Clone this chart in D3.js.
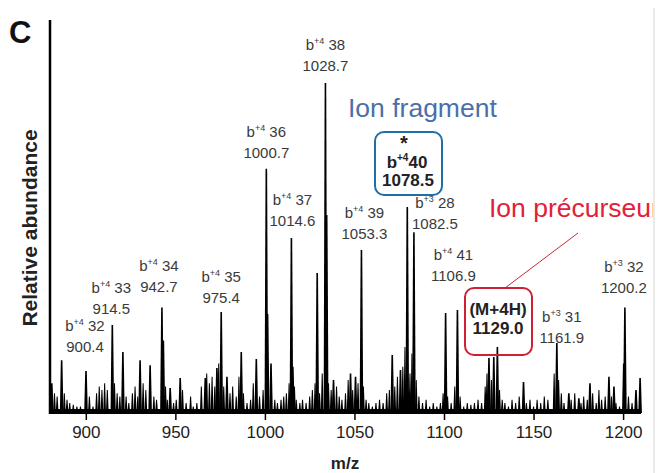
<!DOCTYPE html>
<html>
<head>
<meta charset="utf-8">
<script src="https://cdn.jsdelivr.net/npm/d3@7"></script>
<style>
    body { margin: 0; background: #fff; }
    svg { display: block; }
    text { font-family: "Liberation Sans", Arial, sans-serif; }
</style>
</head>
<body>
<div id="chart"></div>
<script>
// main peaks (m/z, relative abundance %)
const mainMz = [881.0, 886.5, 900.1, 914.8, 920.7, 930.3, 935.9, 942.5, 943.3, 947.1, 952.7,
    966.7, 973.2, 975.6, 978.8, 986.8, 995.2, 1000.8, 1001.5, 1003.4, 1014.8, 1015.6, 1029.2, 1033.8, 1034.5,
    1038.3, 1047.8, 1050.6, 1053.9, 1071.1, 1075.7, 1079.5, 1083.2, 1100.9, 1107.5,
    1125.1, 1127.8, 1129.8, 1144.4, 1163.0, 1169.7, 1175.3, 1181.5, 1192.1, 1194.9,
    1201.0, 1207.2, 1209.5];
const mainInt = [9, 16, 12.7, 26.7, 18.5, 16, 14.5, 32, 22, 7.6, 10.6,
    10.6, 13.6, 30.6, 11, 18.5, 16.4, 74, 30, 15, 53, 14, 42.4, 100, 60,
    10, 12, 11, 49.4, 17.6, 13, 62.4, 54.8, 30.3, 31.2,
    16.7, 17, 20, 9.4, 21.2, 6, 4.5, 9, 11, 8,
    32, 7, 10.6];

// small background peaks
const minorMz = [882.5, 884, 888, 889.5, 891, 893, 895, 897, 902, 904,
    906, 907.5, 909, 910.5, 912, 916, 917.5, 919, 922.5, 924, 926, 927.5, 929, 932, 933.5,
    938, 939.5, 944.5, 945.5, 949, 950.5, 954, 956, 958.5, 960, 962,
    964.5, 967.5, 969, 970.5, 972, 974.2, 977, 980.5, 982, 984, 985.5, 988, 990, 992, 993.5, 997, 999,
    1005.5, 1007, 1009, 1010.5, 1012, 1013.5, 1016.5, 1017.5, 1019.5, 1021, 1023, 1025, 1026.5, 1028, 1030.5, 1032,
    1035.5, 1037, 1040, 1041.5, 1043, 1045, 1046.5, 1049, 1052, 1055, 1056.5, 1058, 1060, 1062,
    1064, 1066, 1068, 1069.5, 1072.5, 1074, 1077, 1078.2, 1081, 1082.1, 1084.5, 1086, 1088, 1090, 1092, 1094, 1096, 1098,
    1099.5, 1102, 1104, 1106, 1109, 1111, 1113, 1115, 1117, 1119, 1121, 1123, 1124, 1126.5, 1131, 1132.5, 1134, 1136,
    1138, 1140, 1142, 1146, 1148, 1150, 1152, 1154, 1156, 1158,
    1161.5, 1164, 1165.5, 1167, 1171, 1173, 1176.5, 1178, 1180, 1183, 1185, 1186.5, 1188, 1190, 1193.5, 1196,
    1198, 1200.2, 1203, 1205];
const minorInt = [6, 5, 6, 4, 3, 2.5, 2, 2, 5, 2,
    6, 8, 7, 9, 7, 9, 6, 5, 5, 3, 6, 8, 5, 9, 7,
    5, 4, 8, 4, 3, 4, 7, 3, 5, 2, 3,
    8, 12, 9, 11, 8, 15, 8, 6, 8, 5, 11, 6, 3, 4, 9, 5, 7,
    4, 3, 4, 5, 6, 9, 8, 4, 3, 4, 3, 5, 7, 9, 6, 12,
    9, 7, 8, 5, 4, 6, 10, 7, 9, 8, 4, 3, 2, 3,
    4, 3, 6, 7, 8, 11, 14, 20, 12, 18, 10, 5, 3, 4, 2, 3, 2, 3,
    6, 5, 3, 8, 5, 2, 3, 2.5, 3, 4, 3, 8, 12, 10, 7, 4, 3, 2,
    4, 3, 5, 3, 4, 2, 4, 3, 5, 4,
    12, 10, 6, 3, 4, 6, 3, 5, 4, 6, 3, 7, 4, 5, 5, 3,
    2, 15, 5, 3];

const xTicks = [900, 950, 1000, 1050, 1100, 1150, 1200];

// peak annotations
const annIon = ['b', 'b', 'b', 'b', 'b', 'b', 'b', 'b', 'b', 'b', 'b', 'b'];
const annCharge = ['+4', '+4', '+4', '+4', '+4', '+4', '+4', '+4', '+3', '+4', '+3', '+3'];
const annNum = ['32', '33', '34', '35', '36', '37', '38', '39', '28', '41', '31', '32'];
const annMz = ['900.4', '914.5', '942.7', '975.4', '1000.7', '1014.6', '1028.7', '1053.3', '1082.5', '1106.9', '1161.9', '1200.2'];
const annPeak = [900.1, 914.8, 942.5, 975.6, 1000.8, 1014.8, 1033.8, 1053.9, 1083.2, 1107.5, 1163.0, 1201.0];

// label layout: x offset from the peak, baseline of first line
const annDx = [-1, -1, -3, 0, 0, 1, 0, 3, 21, -4, 5, -1];
const annY = [331, 293, 271, 282, 137, 205, 50, 218, 208, 260, 322, 272];

const W = 657, H = 473;
const svg = d3.select('#chart').append('svg')
    .attr('width', W)
    .attr('height', H);

svg.append('rect').attr('width', W).attr('height', H).attr('fill', '#fff');
svg.append('clipPath').attr('id', 'frame')
    .append('rect').attr('width', 653).attr('height', H);

const x = d3.scaleLinear().domain([880, 1210]).range([50, 641]);
const y = d3.scaleLinear().domain([0, 100]).range([413, 83]);

// light frame edge on the right
svg.append('line')
    .attr('x1', 654).attr('x2', 654).attr('y1', 8).attr('y2', H)
    .attr('stroke', '#d4d4d4').attr('stroke-width', 1);

function peakPath(mz, v, wb, wt) {
    const px = x(mz), top = y(v), base = y(0);
    return `M${px - wb} ${base} L${px - wt} ${top} L${px + wt} ${top} L${px + wb} ${base}Z`;
}

const peaks = svg.append('g').attr('class', 'peaks');
peaks.selectAll('path.minor')
    .data(d3.range(minorMz.length))
    .join('path')
    .attr('class', 'minor')
    .attr('fill', '#000')
    .attr('d', i => peakPath(minorMz[i], minorInt[i], 1.4, 0.5));
peaks.selectAll('path.main')
    .data(d3.range(mainMz.length))
    .join('path')
    .attr('class', 'main')
    .attr('fill', '#000')
    .attr('d', i => peakPath(mainMz[i], mainInt[i], 1.8, 0.8));

// baseline noise band
svg.append('rect')
    .attr('x', x(880)).attr('width', x(1210) - x(880))
    .attr('y', y(1.2)).attr('height', y(0) - y(1.2))
    .attr('fill', '#000');

// axes
const xAxis = d3.axisBottom(x).tickValues(xTicks).tickFormat(d3.format('d'))
    .tickSize(7).tickPadding(6);
const gx = svg.append('g').attr('transform', `translate(0,${y(0)})`).call(xAxis);
gx.select('.domain').attr('stroke-width', 2.2).attr('d', `M${x(880)},0H${x(1210)}`);
gx.selectAll('.tick line').attr('stroke-width', 1.5);
gx.selectAll('.tick text')
    .attr('font-size', 17)
    .attr('fill', '#222')
    .attr('font-family', '"Liberation Sans", Arial, sans-serif');

svg.append('line')
    .attr('x1', 50).attr('x2', 50).attr('y1', 20).attr('y2', y(0) + 1)
    .attr('stroke', '#000').attr('stroke-width', 2.5);

svg.append('text')
    .attr('x', 345).attr('y', 469)
    .attr('text-anchor', 'middle')
    .attr('font-size', 17).attr('font-weight', 'bold')
    .attr('fill', '#222')
    .text('m/z');

svg.append('text')
    .attr('transform', 'translate(37,228) rotate(-90)')
    .attr('text-anchor', 'middle')
    .attr('font-size', 21).attr('font-weight', 'bold')
    .attr('fill', '#222')
    .text('Relative abundance');

svg.append('text')
    .attr('x', 9).attr('y', 43)
    .attr('font-size', 31).attr('font-weight', 'bold')
    .attr('fill', '#111')
    .text('C');

// peak labels
const labels = svg.append('g').attr('class', 'labels')
    .attr('font-size', 15).attr('fill', '#3a3a3a');
annIon.forEach((ion, i) => {
    const cx = x(annPeak[i]) + annDx[i];
    const t1 = labels.append('text')
        .attr('x', cx).attr('y', annY[i])
        .attr('text-anchor', 'middle');
    t1.append('tspan').text(ion);
    t1.append('tspan').attr('font-size', 9).attr('dy', -6).text(annCharge[i]);
    t1.append('tspan').attr('dy', 6).text(' ' + annNum[i]);
    labels.append('text')
        .attr('x', cx).attr('y', annY[i] + 21)
        .attr('text-anchor', 'middle')
        .text(annMz[i]);
});

// highlighted fragment ion
const frag = svg.append('g');
frag.append('rect')
    .attr('x', 375).attr('y', 132).attr('width', 67).attr('height', 63)
    .attr('rx', 9).attr('ry', 9)
    .attr('fill', '#fff').attr('stroke', '#1f6ea6').attr('stroke-width', 2);
frag.append('text')
    .attr('x', 404).attr('y', 150)
    .attr('text-anchor', 'middle')
    .attr('font-size', 20).attr('font-weight', 'bold').attr('fill', '#222')
    .text('*');
const f1 = frag.append('text')
    .attr('x', 407).attr('y', 168)
    .attr('text-anchor', 'middle')
    .attr('font-size', 17).attr('font-weight', 'bold').attr('fill', '#222');
f1.append('tspan').text('b');
f1.append('tspan').attr('font-size', 10).attr('dy', -7).text('+4');
f1.append('tspan').attr('dy', 7).text('40');
frag.append('text')
    .attr('x', 408).attr('y', 186)
    .attr('text-anchor', 'middle')
    .attr('font-size', 17).attr('font-weight', 'bold').attr('fill', '#222')
    .text('1078.5');
svg.append('text')
    .attr('x', 348).attr('y', 117)
    .attr('font-family', 'Lato, "Open Sans", sans-serif')
    .attr('font-size', 26.5).attr('fill', '#4a6fa8')
    .text('Ion fragment');

// precursor ion
const prec = svg.append('g');
prec.append('line')
    .attr('x1', 505).attr('y1', 288).attr('x2', 578).attr('y2', 233)
    .attr('stroke', '#c8283a').attr('stroke-width', 1);
prec.append('rect')
    .attr('x', 465).attr('y', 288).attr('width', 67).attr('height', 67)
    .attr('rx', 9).attr('ry', 9)
    .attr('fill', 'none').attr('stroke', '#d01f33').attr('stroke-width', 2);
prec.append('text')
    .attr('x', 498).attr('y', 315)
    .attr('text-anchor', 'middle')
    .attr('font-size', 17).attr('font-weight', 'bold').attr('fill', '#222')
    .text('(M+4H)');
prec.append('text')
    .attr('x', 498).attr('y', 334)
    .attr('text-anchor', 'middle')
    .attr('font-size', 17).attr('font-weight', 'bold').attr('fill', '#222')
    .text('1129.0');
svg.append('text')
    .attr('x', 489).attr('y', 217)
    .attr('clip-path', 'url(#frame)')
    .attr('font-family', 'Lato, "Open Sans", sans-serif')
    .attr('font-size', 26.5).attr('fill', '#e3203a')
    .text('Ion précurseur');
</script>
</body>
</html>
